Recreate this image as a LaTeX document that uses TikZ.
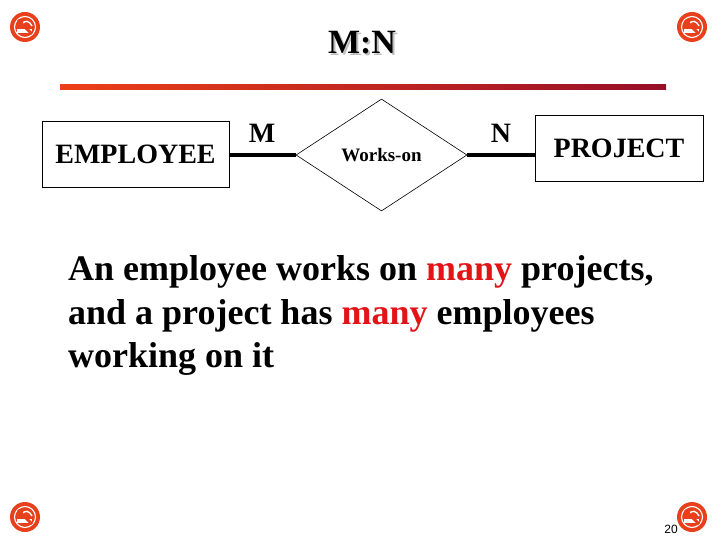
\documentclass[tikz,border=0pt]{standalone}
\usepackage{fontspec}
\setmainfont{Liberation Serif}
\newfontfamily\arialfont{Liberation Sans}
\usetikzlibrary{shapes.geometric}
\definecolor{iconred}{RGB}{232,64,28}
\definecolor{linestart}{RGB}{236,64,24}
\definecolor{lineend}{RGB}{150,14,40}
\definecolor{manyred}{RGB}{226,20,24}
\tikzset{
  entity/.style={draw=black, line width=0.8pt, rectangle, minimum width=187pt, minimum height=66pt, inner sep=0pt, font=\fontsize{28}{32}\selectfont\bfseries},
  relation/.style={draw=black, line width=0.6pt, diamond, minimum width=171pt, minimum height=112pt, inner sep=0pt, font=\fontsize{19}{22}\selectfont\bfseries},
  card/.style={anchor=base, inner sep=0pt, font=\fontsize{28}{32}\selectfont\bfseries},
  conn/.style={line width=4pt, line cap=butt},
  body/.style={anchor=base west, inner sep=0pt, font=\fontsize{36}{43}\selectfont\bfseries},
}
\newcommand{\nosmoke}[2]{%
  \begin{scope}[shift={(#1,#2)}]
    \fill[iconred] (0,0) circle (15);
    \draw[white, line width=1.1pt] (0,0) circle (10.5);
    \fill[white] (-8,2) rectangle (7,6);
    \draw[white, line width=1.4pt] (-3,-2) .. controls (-1,-8) and (5,-6) .. (7,-1);
    \draw[iconred, line width=3pt] (-7,-7) -- (7,7);
  \end{scope}}
\newcommand{\shadowtext}[1]{\rlap{\kern2pt\raisebox{-2pt}{\textcolor{black!25}{#1}}}#1}
\begin{document}
\begin{tikzpicture}[x=1pt,y=-1pt]
\useasboundingbox (0,0) rectangle (720,540);
\fill[white] (0,0) rectangle (720,540);
% corner icons
\nosmoke{25}{27}
\nosmoke{692}{27}
\nosmoke{25}{517}
\nosmoke{692}{517}
% title with shadow
\node (title) [anchor=base, inner sep=0pt, font=\fontsize{34}{40}\selectfont\bfseries] at (362,54) {\shadowtext{M:N}};
% gradient rule
\shade[left color=linestart, right color=lineend] (60,85) rectangle (666,90);
% ER diagram
\node (emp) [entity] at (135.5,154) {EMPLOYEE};
\node (rel) [relation] at (381.5,155) {Works-on};
\node (proj) [entity, minimum width=168pt] at (619,148) {PROJECT};
\draw[conn] (emp.east |- rel.west) -- (rel.west);
\draw[conn] (rel.east) -- (proj.west |- rel.east);
\node (m) [card] at (262,143) {M};
\node (n) [card] at (501,143) {N};
% body text
\node (l1) [body] at (68,280) {An employee works on \textcolor{manyred}{many} projects,};
\node (l2) [body] at (68,324) {and a project has \textcolor{manyred}{many} employees};
\node (l3) [body] at (68,367) {working on it};
% page number
\node (pg) [anchor=base east, inner sep=0pt, font=\arialfont\fontsize{12}{14}\selectfont] at (678,533) {20};
\end{tikzpicture}
\end{document}
